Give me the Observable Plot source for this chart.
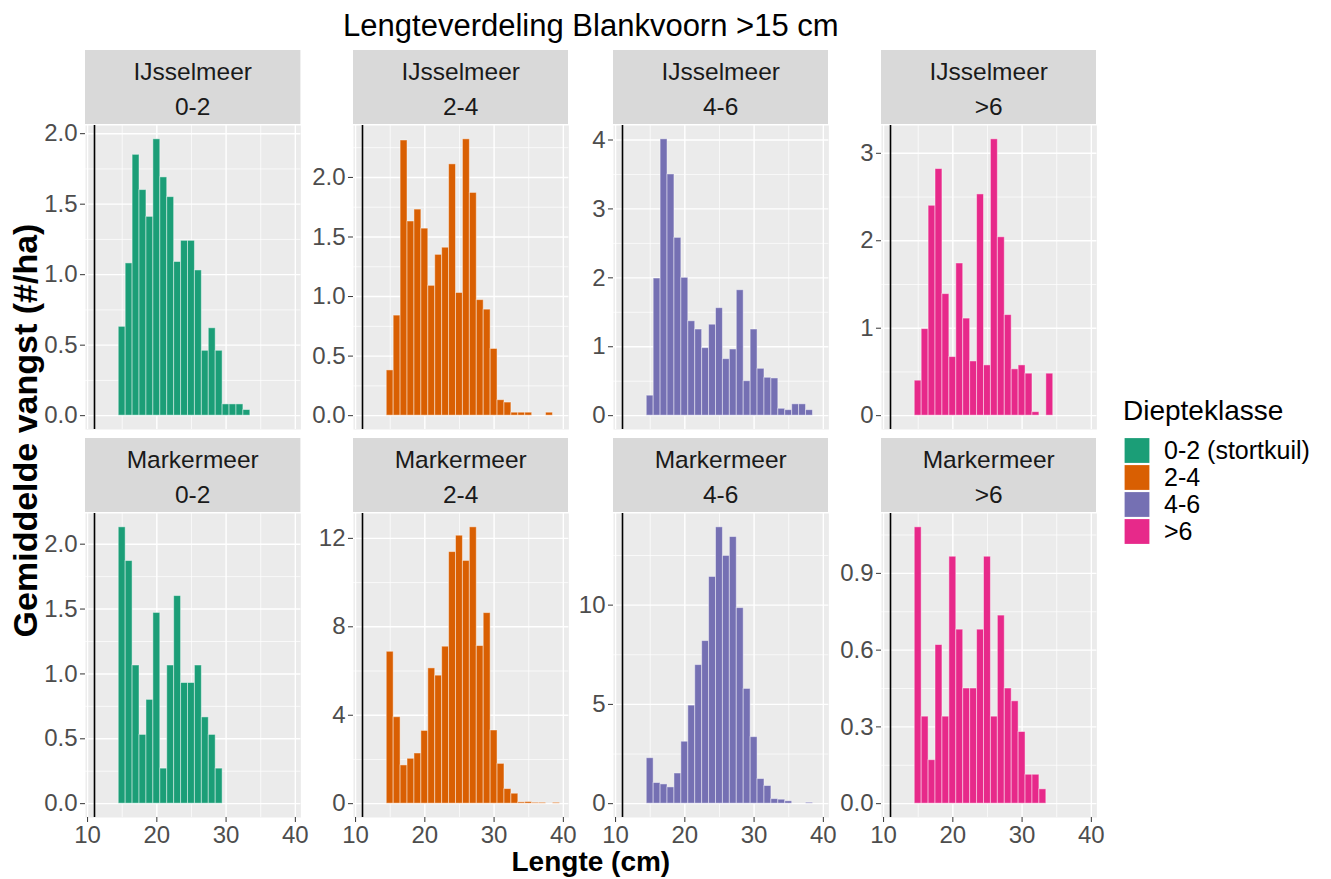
<!DOCTYPE html>
<html>
<head>
<meta charset="utf-8">
<script src="https://cdn.jsdelivr.net/npm/d3@7"></script>
<script src="https://cdn.jsdelivr.net/npm/@observablehq/plot@0.6"></script>
<style>
  body { margin: 0; background: #ffffff; }
  #chart { position: relative; width: 1331px; height: 879px; overflow: hidden; font-family: "Liberation Sans", Arial, sans-serif; }
  .cell { position: absolute; }
</style>
</head>
<body>
<div id="chart"></div>
<script>
// ---------- data ----------
const chartTitle = "Lengteverdeling Blankvoorn >15 cm";
const xTitle = "Lengte (cm)";
const yTitle = "Gemiddelde vangst (#/ha)";
const legendTitle = "Diepteklasse";
const lakes = ["IJsselmeer", "Markermeer"];
const depthClasses = ["0-2", "2-4", "4-6", ">6"];
const legendLabels = ["0-2 (stortkuil)", "2-4", "4-6", ">6"];
const colors = ["#1B9E77", "#D95F02", "#7570B3", "#E7298A"];
const firstLength = 15; // length (cm) of the first value in each series

const ijs02 = [0.63, 1.08, 1.85, 1.60, 1.41, 1.96, 1.69, 1.55, 1.09, 1.24, 1.24, 1.03, 0.46, 0.62, 0.46, 0.08, 0.08, 0.08, 0.04];
const ijs24 = [0.38, 0.84, 2.31, 1.63, 1.73, 1.57, 1.09, 1.35, 1.41, 2.11, 1.03, 2.32, 1.87, 0.97, 0.89, 0.56, 0.13, 0.11, 0.025, 0.025, 0.025, 0, 0, 0.025];
const ijs46 = [0.29, 1.99, 4.01, 3.50, 2.58, 2.00, 1.37, 1.25, 0.98, 1.32, 1.56, 0.82, 0.96, 1.82, 0.50, 1.25, 0.68, 0.55, 0.54, 0.10, 0.08, 0.165, 0.165, 0.08];
const ijs6  = [0.40, 0.99, 2.40, 2.82, 1.39, 0.67, 1.74, 1.11, 0.62, 2.53, 0.575, 3.16, 2.04, 1.15, 0.53, 0.575, 0.48, 0.04, 0, 0.48];
const mm02  = [2.13, 1.87, 1.065, 0.53, 0.80, 1.47, 0.27, 1.065, 1.60, 0.93, 0.93, 1.065, 0.665, 0.53, 0.27];
const mm24  = [6.87, 3.91, 1.73, 2.03, 2.27, 3.29, 6.12, 5.79, 7.10, 11.38, 12.12, 10.98, 12.50, 7.13, 8.62, 3.31, 1.80, 0.66, 0.45, 0.06, 0.075, 0.04, 0.04, 0, 0.04];
const mm46  = [2.29, 1.04, 0.97, 0.82, 1.52, 3.12, 4.94, 6.98, 8.19, 11.42, 13.92, 12.48, 13.43, 9.85, 5.78, 3.35, 1.24, 0.89, 0.23, 0.20, 0.12, 0, 0, 0.05];
const mm6   = [1.08, 0.34, 0.17, 0.62, 0.34, 0.965, 0.68, 0.45, 0.45, 0.68, 0.965, 0.34, 0.735, 0.45, 0.40, 0.28, 0.113, 0.113, 0.056];

const seriesValues = [ijs02, ijs24, ijs46, ijs6, mm02, mm24, mm46, mm6];

const yTicks = [
  [0, 0.5, 1, 1.5, 2], [0, 0.5, 1, 1.5, 2], [0, 1, 2, 3, 4], [0, 1, 2, 3],
  [0, 0.5, 1, 1.5, 2], [0, 4, 8, 12], [0, 5, 10], [0, 0.3, 0.6, 0.9]
];
const yTickLabels = [
  ["0.0", "0.5", "1.0", "1.5", "2.0"], ["0.0", "0.5", "1.0", "1.5", "2.0"], ["0", "1", "2", "3", "4"], ["0", "1", "2", "3"],
  ["0.0", "0.5", "1.0", "1.5", "2.0"], ["0", "4", "8", "12"], ["0", "5", "10"], ["0.0", "0.3", "0.6", "0.9"]
];
const xTicks = [10, 20, 30, 40];
const xTickLabels = ["10", "20", "30", "40"];
const xMinorTicks = [15, 25, 35];
const xDomain = [9.7, 40.8];
const refLine = [11];

// ---------- layout ----------
const colLeft = [85.3, 352.7, 613, 881];
const rowTop = [125, 513];
const stripTop = [50, 438];
const PW = 215.4, PH = 304, stripH = 74;
const FONT = "Liberation Sans, Arial, sans-serif";

const chart = document.getElementById("chart");

seriesValues.forEach((values, i) => {
  const r = Math.floor(i / 4), c = i % 4;
  const data = values.map((v, k) => ({L: firstLength + k, v})).filter(d => d.v > 0);
  const maxV = d3.max(data, d => d.v);
  const domain = [-0.05 * maxV, 1.05 * maxV];
  const ticks = yTicks[i];
  const labels = yTickLabels[i];
  const step = ticks[1] - ticks[0];
  const minor = d3.range(ticks.length + 1)
    .map(k => ticks[0] - step / 2 + k * step)
    .filter(t => t > domain[0] && t < domain[1]);

  const ML = 70, MT = 20, MR = 6, MB = r === 1 ? 50 : 6;
  const marks = [
    Plot.frame({fill: "#EBEBEB", stroke: "none"}),
    Plot.ruleY(minor, {stroke: "white", strokeWidth: 0.7}),
    Plot.ruleX(xMinorTicks, {stroke: "white", strokeWidth: 0.7}),
    Plot.ruleY(ticks, {stroke: "white", strokeWidth: 1.4}),
    Plot.ruleX(xTicks, {stroke: "white", strokeWidth: 1.4}),
    Plot.rectY(data, {x1: d => d.L - 0.5, x2: d => d.L + 0.5, y: "v", fill: colors[c], stroke: "white", strokeOpacity: 0.45, strokeWidth: 1}),
    Plot.ruleX(refLine, {stroke: "black", strokeWidth: 1.6}),
    Plot.axisY({ticks, tickFormat: d => labels[ticks.indexOf(d)], tickSize: 5, tickPadding: 3, stroke: "#333333", fill: "#4D4D4D", fontSize: 24, label: null})
  ];
  if (r === 1) {
    marks.push(Plot.axisX({ticks: xTicks, tickFormat: d => xTickLabels[xTicks.indexOf(d)], tickSize: 5, tickPadding: 3, stroke: "#333333", fill: "#4D4D4D", fontSize: 24, label: null}));
  }
  const svg = Plot.plot({
    width: ML + PW + MR,
    height: MT + PH + MB,
    marginLeft: ML, marginTop: MT, marginRight: MR, marginBottom: MB,
    style: {background: "transparent", fontFamily: FONT, fontSize: "24px", overflow: "visible"},
    x: {domain: xDomain, axis: null},
    y: {domain, axis: null},
    marks
  });
  const holder = document.createElement("div");
  holder.className = "cell";
  holder.style.left = (colLeft[c] - ML) + "px";
  holder.style.top = (rowTop[r] - MT) + "px";
  holder.appendChild(svg);
  chart.appendChild(holder);

  // strip
  const strip = d3.select(chart).append("svg")
    .attr("class", "cell")
    .style("left", colLeft[c] + "px").style("top", stripTop[r] + "px")
    .attr("width", PW).attr("height", stripH);
  strip.append("rect").attr("width", PW).attr("height", stripH).attr("fill", "#D9D9D9");
  strip.append("text").attr("x", PW / 2).attr("y", 29.5).attr("text-anchor", "middle")
    .attr("font-family", FONT).attr("font-size", 24.5).attr("fill", "#1A1A1A").text(lakes[r]);
  strip.append("text").attr("x", PW / 2).attr("y", 65).attr("text-anchor", "middle")
    .attr("font-family", FONT).attr("font-size", 24.5).attr("fill", "#1A1A1A").text(depthClasses[c]);
});

// ---------- overlay: title, axis titles, legend ----------
const ov = d3.select(chart).append("svg").attr("class", "cell")
  .style("left", "0px").style("top", "0px").style("pointer-events", "none")
  .attr("width", 1331).attr("height", 879)
  .attr("font-family", FONT);

const panelsCenterX = (colLeft[0] + colLeft[3] + PW) / 2;
const panelsCenterY = (stripTop[0] + rowTop[1] + PH) / 2;

ov.append("text").attr("x", panelsCenterX).attr("y", 36).attr("text-anchor", "middle")
  .attr("font-size", 31).attr("fill", "#000").text(chartTitle);
ov.append("text").attr("x", panelsCenterX).attr("y", 871).attr("text-anchor", "middle")
  .attr("font-size", 28).attr("font-weight", "bold").attr("fill", "#000").text(xTitle);
ov.append("text").attr("transform", `translate(37,${panelsCenterY - 3}) rotate(-90)`).attr("text-anchor", "middle")
  .attr("font-size", 34).attr("font-weight", "bold").attr("fill", "#000").text(yTitle);

ov.append("text").attr("x", 1123).attr("y", 420).attr("font-size", 28).attr("fill", "#000").text(legendTitle);
legendLabels.forEach((lab, k) => {
  const top = 437.5 + k * 27;
  ov.append("rect").attr("x", 1124).attr("y", top).attr("width", 26).attr("height", 26)
    .attr("fill", colors[k]).attr("stroke", "white").attr("stroke-width", 1.2);
  ov.append("text").attr("x", 1164).attr("y", top + 13 + 8.8).attr("font-size", 25).attr("fill", "#000").text(lab);
});
</script>
</body>
</html>
